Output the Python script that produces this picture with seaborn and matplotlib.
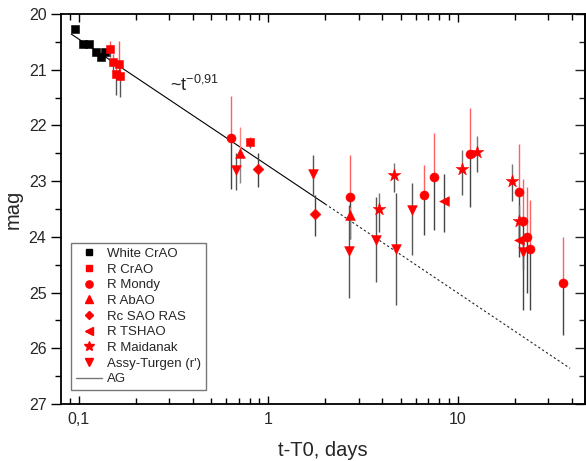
import matplotlib
matplotlib.use("Agg")
import matplotlib.pyplot as plt
from matplotlib.ticker import MultipleLocator, FixedLocator, FixedFormatter, LogLocator, NullFormatter
from matplotlib.lines import Line2D
import seaborn as sns
import pandas as pd

# ---------------- data ----------------
white_crao_t = [0.096, 0.105, 0.114, 0.124, 0.1315, 0.138]
white_crao_m = [20.27, 20.53, 20.54, 20.68, 20.77, 20.68]
white_crao_up = [0.05, 0.05, 0.05, 0.05, 0.05, 0.05]
white_crao_dn = [0.05, 0.05, 0.05, 0.05, 0.05, 0.05]

r_crao_t = [0.1456, 0.152, 0.164, 0.158, 0.166, 0.80]
r_crao_m = [20.63, 20.87, 20.89, 21.08, 21.11, 22.30]
r_crao_up = [0.15, 0.15, 0.40, 0.15, 0.15, 0.10]
r_crao_dn = [0.15, 0.15, 0.15, 0.38, 0.38, 0.10]

r_mondy_t = [0.638, 2.71, 6.67, 7.51, 11.6, 21.2, 22.2, 23.1, 24.1, 35.8]
r_mondy_m = [22.22, 23.28, 23.25, 22.93, 22.51, 23.19, 23.71, 24.01, 24.22, 24.82]
r_mondy_up = [0.75, 0.75, 0.54, 0.79, 0.82, 0.86, 0.74, 0.91, 0.88, 0.81]
r_mondy_dn = [0.92, 0.75, 0.72, 0.95, 0.96, 0.90, 1.60, 0.99, 1.09, 0.94]

r_abao_t = [0.711, 2.71]
r_abao_m = [22.50, 23.61]
r_abao_up = [0.47, 0.15]
r_abao_dn = [0.54, 0.42]

rc_sao_t = [0.889, 1.77]
rc_sao_m = [22.79, 23.59]
rc_sao_up = [0.29, 0.35]
rc_sao_dn = [0.31, 0.40]

r_tshao_t = [8.47, 21.2]
r_tshao_m = [23.36, 24.06]
r_tshao_up = [0.49, 0.30]
r_tshao_dn = [0.55, 0.30]

r_maid_t = [3.85, 4.62, 10.6, 12.6, 19.4, 21.2]
r_maid_m = [23.50, 22.89, 22.78, 22.47, 22.99, 23.72]
r_maid_up = [0.28, 0.21, 0.34, 0.28, 0.30, 0.30]
r_maid_dn = [0.41, 0.30, 0.47, 0.36, 0.36, 0.30]

assy_t = [0.678, 1.73, 2.68, 3.71, 4.73, 5.77, 22.2]
assy_m = [22.80, 22.87, 24.25, 24.06, 24.21, 23.51, 24.28]
assy_up = [0.30, 0.34, 0.82, 0.77, 0.99, 0.48, 0.30]
assy_dn = [0.36, 0.40, 0.85, 0.75, 1.01, 0.82, 0.30]

# AG power-law fit (~t^-0.91): solid part then dotted extrapolation
ag_solid_t = [0.0914, 2.0]
ag_solid_m = [20.36, 23.41]
ag_dot_t = [2.0, 39.2]
ag_dot_m = [23.41, 26.36]

x_ticks = [0.1, 1, 10]
x_ticklabels = ["0,1", "1", "10"]
y_ticks = [20, 21, 22, 23, 24, 25, 26, 27]

series = [
    ("White CrAO", white_crao_t, white_crao_m, white_crao_up, white_crao_dn, "s", "black", 5.6, "#222222", "#222222"),
    ("R CrAO", r_crao_t, r_crao_m, r_crao_up, r_crao_dn, "s", "red", 5.6, "#ff5555", "#555555"),
    ("R Mondy", r_mondy_t, r_mondy_m, r_mondy_up, r_mondy_dn, "o", "red", 6.5, "#ff6060", "#444444"),
    ("R AbAO", r_abao_t, r_abao_m, r_abao_up, r_abao_dn, "^", "red", 7, "#ff8080", "#888888"),
    ("Rc SAO RAS", rc_sao_t, rc_sao_m, rc_sao_up, rc_sao_dn, "D", "red", 5.5, "#444444", "#444444"),
    ("R TSHAO", r_tshao_t, r_tshao_m, r_tshao_up, r_tshao_dn, "<", "red", 7, "#444444", "#444444"),
    ("R Maidanak", r_maid_t, r_maid_m, r_maid_up, r_maid_dn, "*", "red", 9.5, "#777777", "#555555"),
    ("Assy-Turgen (r')", assy_t, assy_m, assy_up, assy_dn, "v", "red", 7, "#555555", "#555555"),
]

# ---------------- figure ----------------
sns.set_style("ticks")
plt.rcParams["font.family"] = ["Liberation Sans", "DejaVu Sans"]
plt.rcParams["mathtext.fontset"] = "custom"
plt.rcParams["mathtext.rm"] = "Liberation Sans"
plt.rcParams["mathtext.it"] = "Liberation Sans"

fig = plt.figure(figsize=(5.86, 4.61), dpi=100)
ax = fig.add_axes([61 / 586, 1 - 404 / 461, 524 / 586, 390 / 461])

# fit line
ax.plot(ag_solid_t, ag_solid_m, color="black", lw=0.8, zorder=2)
ax.plot(ag_dot_t, ag_dot_m, color="#222222", lw=0.8, ls=(0, (2, 2.2)), zorder=2)

handles = []
for name, t, m, up, dn, mk, col, ms, cup, cdn in series:
    top = [mi - u for mi, u in zip(m, up)]
    bot = [mi + d for mi, d in zip(m, dn)]
    ax.vlines(t, top, m, colors=cup, lw=1.0, zorder=3)
    ax.vlines(t, m, bot, colors=cdn, lw=1.0, zorder=3)
    df = pd.DataFrame({"t": t, "mag": m})
    sns.scatterplot(data=df, x="t", y="mag", marker=mk, color=col, s=ms ** 2,
                    edgecolor=col, linewidth=0.4, ax=ax, zorder=4, legend=False)
    handles.append(Line2D([], [], ls="none", marker=mk, color=col, markersize=ms * 0.8,
                          markeredgecolor=col, label=name))
handles.append(Line2D([], [], color="#777777", lw=1.0, label="AG"))

ax.set_xscale("log")
ax.set_xlim(0.0807, 47)
ax.set_ylim(27, 20)

ax.xaxis.set_major_locator(FixedLocator(x_ticks))
ax.xaxis.set_major_formatter(FixedFormatter(x_ticklabels))
ax.xaxis.set_minor_locator(LogLocator(base=10, subs=[2, 3, 4, 5, 6, 7, 8, 9]))
ax.xaxis.set_minor_formatter(NullFormatter())
ax.yaxis.set_major_locator(FixedLocator(y_ticks))
ax.yaxis.set_minor_locator(MultipleLocator(0.5))

ax.tick_params(axis="x", which="both", direction="in", top=True, bottom=True,
               labelsize=11.5, width=1.0, color="black", pad=6)
ax.tick_params(axis="x", which="major", length=6)
ax.tick_params(axis="x", which="minor", length=4)
ax.tick_params(axis="y", which="both", direction="out", left=True, right=False,
               labelsize=11.5, width=1.0, color="black")
ax.tick_params(axis="y", which="major", length=7)
ax.tick_params(axis="y", which="minor", length=4)

sec = ax.secondary_yaxis("right")
sec.yaxis.set_major_locator(FixedLocator(y_ticks))
sec.yaxis.set_minor_locator(MultipleLocator(0.5))
sec.tick_params(axis="y", which="both", direction="in", labelright=False, width=1.0)
sec.tick_params(axis="y", which="major", length=7)
sec.tick_params(axis="y", which="minor", length=4)
sec.spines["right"].set_linewidth(1.3)

for s in ax.spines.values():
    s.set_visible(True)
    s.set_linewidth(1.3)
    s.set_color("black")

ax.set_xlabel("t-T0, days", fontsize=14.5, labelpad=10)
ax.set_ylabel("mag", fontsize=14.5, labelpad=4)

ax.text(0.305, 21.27, r"~t$^{-0{,}91}$", fontsize=13, ha="left", va="center")

leg = ax.legend(handles=handles, loc="lower left", bbox_to_anchor=(0.02, 0.036),
                borderaxespad=0, fontsize=9.5, labelspacing=0.26, handlelength=2.0,
                handletextpad=0.35, borderpad=0.35, frameon=True, fancybox=False,
                edgecolor="#555555")
leg.get_frame().set_linewidth(1.0)

fig.savefig("out.png", dpi=100)
